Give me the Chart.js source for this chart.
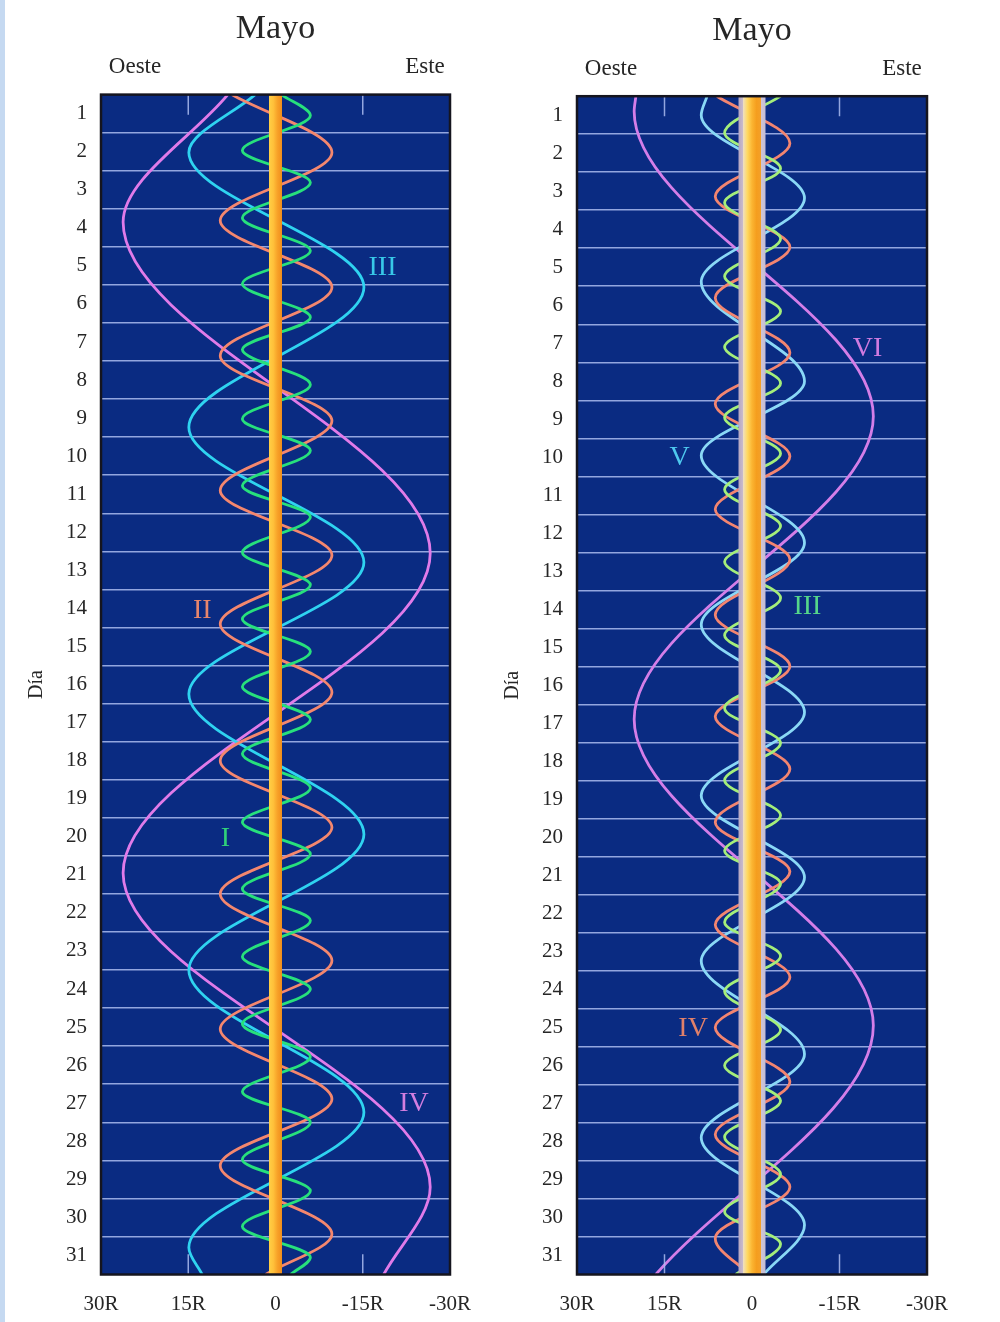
<!DOCTYPE html>
<html>
<head>
<meta charset="utf-8">
<title>Mayo</title>
<script src="https://cdn.jsdelivr.net/npm/chart.js@4.4.1/dist/chart.umd.min.js"></script>
<style>
  html, body { margin: 0; padding: 0; background: #fff; }
  body { width: 1000px; height: 1322px; position: relative; overflow: hidden; }
  #edge { position: absolute; left: 0; top: 0; width: 5px; height: 1322px; background: #c5d9f1; }
  canvas { position: absolute; top: 0; }
  #left { left: 0; }
  #right { left: 476px; }
</style>
</head>
<body>
<div id="edge"></div>
<canvas id="left" width="500" height="1322"></canvas>
<canvas id="right" width="524" height="1322"></canvas>
<script>
// axis labels
const dayLabels = [1, 2, 3, 4, 5, 6, 7, 8, 9, 10, 11, 12, 13, 14, 15, 16, 17, 18, 19, 20,
  21, 22, 23, 24, 25, 26, 27, 28, 29, 30, 31];
const xTickValues = [30, 15, 0, -15, -30];
const xTickLabels = ['30R', '15R', '0', '-15R', '-30R'];
const edgeTicks = [15, -15];

// planet track [day, position in radii]
const planetTrack = [[0.5, 0], [31.5, 0]];

// Jupiter moons: [day, position] at edges and turning points
const jupI = [[0.5, -1], [1.05, -6], [1.97, 5.7], [2.81, -6], [3.74, 5.7], [4.6, -6], [5.47, 5.7],
  [6.35, -6], [7.2, 5.7], [8.12, -6], [9.02, 5.7], [9.85, -6], [10.78, 5.7], [11.6, -6],
  [12.53, 5.7], [13.38, -6], [14.28, 5.7], [15.13, -6], [16.06, 5.7], [16.92, -6], [17.82, 5.7],
  [18.72, -6], [19.62, 5.7], [20.45, -6], [21.37, 5.7], [22.2, -6], [23.15, 5.7], [24.0, -6],
  [24.92, 5.7], [25.78, -6], [26.7, 5.7], [27.5, -6], [28.48, 5.7], [29.3, -6], [30.24, 5.7],
  [31.05, -6], [31.5, -2.6]];
const jupII = [[0.5, 7.5], [2.02, -9.7], [3.81, 9.5], [5.56, -9.7], [7.36, 9.5], [9.07, -9.7],
  [10.9, 9.5], [12.6, -9.7], [14.41, 9.5], [16.2, -9.7], [18.0, 9.5], [19.75, -9.7], [21.5, 9.5],
  [23.25, -9.7], [25.05, 9.5], [26.89, -9.7], [28.64, 9.5], [30.44, -9.7], [31.5, 1.7]];
const jupIII = [[0.5, 3.5], [2.02, 14.9], [5.56, -15.2], [9.24, 14.9], [12.79, -15.2], [16.25, 14.9],
  [19.93, -15.2], [23.5, 14.9], [27.24, -15.2], [30.79, 14.9], [31.5, 12.6]];
const jupIV = [[0.5, 8.2], [3.85, 26.2], [12.55, -26.6], [20.95, 26.2], [29.2, -26.6], [31.5, -18.6]];

// Saturn moons
const satIII = [[0.5, -4.9], [1.47, 4.7], [2.4, -4.9], [3.3, 4.7], [4.25, -4.9], [5.24, 4.7],
  [6.16, -4.9], [7.1, 4.7], [8.05, -4.9], [8.95, 4.7], [9.9, -4.9], [10.85, 4.7], [11.81, -4.9],
  [12.75, 4.7], [13.7, -4.9], [14.68, 4.7], [15.6, -4.9], [16.6, 4.7], [17.52, -4.9], [18.5, 4.7],
  [19.42, -4.9], [20.35, 4.7], [21.22, -4.9], [22.23, 4.7], [23.12, -4.9], [24.05, 4.7],
  [25.07, -4.9], [26.0, 4.7], [26.93, -4.9], [27.88, 4.7], [28.86, -4.9], [29.85, 4.7],
  [30.7, -4.9], [31.5, 2.8]];
const satIV = [[0.5, 6.0], [1.74, -6.5], [3.14, 6.3], [4.47, -6.5], [5.8, 6.3], [7.25, -6.5],
  [8.6, 6.3], [9.97, -6.5], [11.37, 6.3], [12.69, -6.5], [14.15, 6.3], [15.5, -6.5], [16.82, 6.3],
  [18.2, -6.5], [19.6, 6.3], [20.9, -6.5], [22.3, 6.3], [23.68, -6.5], [25.0, 6.3], [26.43, -6.5],
  [27.82, 6.3], [29.2, -6.5], [30.55, 6.3], [31.5, 0.5]];
const satV = [[0.5, 7.7], [1.0, 8.7], [3.18, -9.0], [5.38, 8.7], [8.0, -9.0], [9.95, 8.7],
  [12.25, -9.0], [14.4, 8.7], [16.71, -9.0], [18.9, 8.7], [21.05, -9.0], [23.25, 8.7],
  [25.7, -9.0], [27.9, 8.7], [30.2, -9.0], [31.5, -2.0]];
const satVI = [[0.5, 19.9], [0.9, 20.2], [8.92, -20.8], [16.89, 20.2], [24.95, -20.8], [31.5, 16.5]];

const FONT = '"Liberation Serif", "Times New Roman", serif';
const NAVY = '#0a2b82';
const GRID = 'rgba(172, 188, 240, 0.85)';
const TEXT = '#262626';

const toPoints = pairs => pairs.map(p => ({ x: p[1], y: p[0] }));

function curve(pairs, color) {
  return {
    data: toPoints(pairs), borderColor: color, borderWidth: 2.8, pointRadius: 0,
    cubicInterpolationMode: 'monotone', clip: 0, yAxisID: 'y', xAxisID: 'x'
  };
}

function bandColor(stops, half) {
  return ctx => {
    const chart = ctx.chart;
    const xs = chart.scales.x;
    if (!chart.chartArea || !xs) return stops[Math.floor(stops.length / 2)];
    const c = xs.getPixelForValue(0);
    const g = chart.ctx.createLinearGradient(c - half, 0, c + half, 0);
    stops.forEach((s, i) => g.addColorStop(i / (stops.length - 1), s));
    return g;
  };
}

function band(stops, width) {
  return {
    data: toPoints(planetTrack), borderColor: bandColor(stops, width / 2), borderWidth: width,
    pointRadius: 0, tension: 0, clip: 0, yAxisID: 'y', xAxisID: 'x'
  };
}

function tickMarks() {
  const out = [];
  edgeTicks.forEach(v => {
    [[0.5, 1.03], [30.97, 31.5]].forEach(r => {
      out.push({
        data: [{ x: v, y: r[0] }, { x: v, y: r[1] }], borderColor: GRID, borderWidth: 1.5,
        pointRadius: 0, tension: 0, clip: 0, yAxisID: 'y', xAxisID: 'x'
      });
    });
  });
  return out;
}

function panelPlugin(tags) {
  return {
    id: 'panel',
    beforeDraw(chart) {
      const { ctx, chartArea: a } = chart;
      ctx.save();
      ctx.fillStyle = NAVY;
      ctx.fillRect(a.left, a.top, a.right - a.left, a.bottom - a.top);
      ctx.restore();
    },
    afterDatasetsDraw(chart) {
      const { ctx, chartArea: a, scales } = chart;
      ctx.save();
      ctx.strokeStyle = '#15151f';
      ctx.lineWidth = 2.5;
      ctx.strokeRect(a.left, a.top, a.right - a.left, a.bottom - a.top);
      ctx.font = '28px ' + FONT;
      ctx.textAlign = 'center';
      ctx.textBaseline = 'middle';
      tags.forEach(t => {
        ctx.fillStyle = t.color;
        ctx.fillText(t.text, scales.x.getPixelForValue(t.pos), scales.y.getPixelForValue(t.day));
      });
      ctx.restore();
    },
    afterDraw(chart) {
      const { ctx, chartArea: a } = chart;
      ctx.save();
      ctx.fillStyle = TEXT;
      ctx.textAlign = 'center';
      ctx.textBaseline = 'alphabetic';
      ctx.font = '34px ' + FONT;
      ctx.fillText('Mayo', (a.left + a.right) / 2, a.top - 56.5);
      ctx.font = '23px ' + FONT;
      ctx.fillText('Oeste', a.left + 34, a.top - 21.5);
      ctx.fillText('Este', a.right - 25, a.top - 21.5);
      ctx.restore();
    }
  };
}

function makeChart(id, datasets, tags, padding) {
  return new Chart(document.getElementById(id), {
    type: 'line',
    data: { datasets },
    plugins: [panelPlugin(tags)],
    options: {
      responsive: false,
      animation: false,
      indexAxis: 'y',
      layout: { padding },
      plugins: { legend: { display: false }, tooltip: { enabled: false } },
      scales: {
        x: {
          type: 'linear', min: -30, max: 30, reverse: true,
          grid: { display: false, drawTicks: false },
          border: { display: false },
          afterBuildTicks: s => { s.ticks = xTickValues.map(v => ({ value: v })); },
          afterFit: s => { s.height = 47.5; },
          ticks: {
            callback: (v, i) => xTickLabels[i], font: { family: FONT, size: 21 }, color: TEXT,
            padding: 17, maxRotation: 0, autoSkip: false
          }
        },
        y: {
          type: 'linear', min: 0.5, max: 31.5, reverse: true,
          grid: { display: false, drawTicks: false },
          border: { display: false },
          afterBuildTicks: s => { s.ticks = dayLabels.map(v => ({ value: v })); },
          afterFit: s => { s.width = 101; },
          ticks: { font: { family: FONT, size: 21 }, color: TEXT, padding: 14, autoSkip: false },
          title: {
            display: true, text: 'Día', font: { family: FONT, size: 20 }, color: TEXT,
            padding: { top: 25, bottom: 0 }
          }
        },
        yg: {
          type: 'linear', position: 'right', min: 0.5, max: 31.5, reverse: true,
          afterBuildTicks: s => { s.ticks = dayLabels.slice(1).map(d => ({ value: d - 0.5 })); },
          afterFit: s => { s.width = 0; },
          grid: { color: GRID, lineWidth: 1.5, drawTicks: false },
          border: { display: false },
          ticks: { display: false }
        }
      }
    }
  });
}

const C = {
  jGreen: '#27e07c', jSalmon: '#f4876e', jCyan: '#2fd3f0', jViolet: '#e07be9',
  sGreen: '#a4ee7a', sSalmon: '#f38570', sCyan: '#8ad8f6', sViolet: '#d47ee8'
};

makeChart('left', [
  band(['#ffcf45', '#ffc03a', '#f7a027', '#f08d1c'], 13),
  ...tickMarks(),
  curve(jupI, C.jGreen),
  curve(jupII, C.jSalmon),
  curve(jupIII, C.jCyan),
  curve(jupIV, C.jViolet)
], [
  { text: 'III', day: 5.05, pos: -18.4, color: '#38c8e8' },
  { text: 'II', day: 14.06, pos: 12.6, color: '#e8866c' },
  { text: 'I', day: 20.04, pos: 8.6, color: '#30d27a' },
  { text: 'IV', day: 27.01, pos: -23.8, color: '#d27ee0' }
], { left: 0, right: 50, top: 94.6, bottom: 0 });

makeChart('right', [
  band(['#efe0c4', '#ffd860', '#fbb532', '#f59e1e', '#f3a02a'], 18),
  band(['#b4a6c2', '#d4c6d0', '#e0d0c4', '#d6cad0', '#c2bcd8'], 27),
  ...tickMarks(),
  curve(satIII, C.sGreen),
  curve(satIV, C.sSalmon),
  curve(satV, C.sCyan),
  curve(satVI, C.sViolet)
], [
  { text: 'VI', day: 7.14, pos: -19.8, color: '#cf7be0' },
  { text: 'V', day: 10.0, pos: 12.4, color: '#4ec8ee' },
  { text: 'III', day: 13.93, pos: -9.5, color: '#55d68a' },
  { text: 'IV', day: 25.03, pos: 10.1, color: '#e0806a' }
], { left: 0, right: 73, top: 96.2, bottom: 0 });
</script>
</body>
</html>
